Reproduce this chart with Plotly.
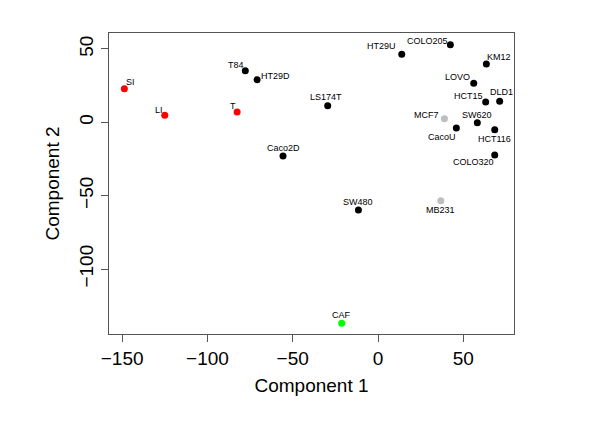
import plotly.graph_objects as go

# PCA scores
names = ["SI", "LI", "T", "T84", "HT29D", "LS174T", "Caco2D", "HT29U", "COLO205",
         "KM12", "LOVO", "HCT15", "DLD1", "MCF7", "SW620", "CacoU", "HCT116",
         "COLO320", "SW480", "MB231", "CAF"]
comp1 = [-148.7, -125.0, -82.6, -77.8, -70.9, -29.5, -55.7, 13.9, 42.4,
         63.5, 56.1, 63.1, 71.3, 38.9, 58.2, 45.9, 68.4,
         68.4, -11.5, 36.8, -21.3]
comp2 = [22.9, 4.8, 7.0, 35.2, 29.0, 11.3, -23.0, 46.4, 52.9,
         39.7, 26.6, 13.8, 14.3, 2.5, -0.3, -3.9, -5.0,
         -22.3, -59.8, -53.4, -137.0]
groups = ["tissue", "tissue", "tissue", "crc", "crc", "crc", "crc", "crc", "crc",
          "crc", "crc", "crc", "crc", "breast", "crc", "crc", "crc",
          "crc", "crc", "breast", "caf"]

x_ticks = [-150, -100, -50, 0, 50]
y_ticks = [-100, -50, 0, 50]

GROUP_COLORS = {"tissue": "#ff0000", "crc": "#000000", "breast": "#bebebe", "caf": "#00ff00"}

# label offset from its point in pixels (right, up)
label_shift = [(6, 7), (-6, 5), (-4, 6), (-9, 6), (18, 4), (-2, 9), (0, 8),
               (-20, 8), (-23, 4), (13, 7), (-16, 6), (-17, 6), (2, 9), (-18, 4),
               (0, 8), (-14, -9), (0, -9), (-21, -7), (0, 8), (0, -9), (0, 8)]

fig = go.Figure()

fig.add_trace(go.Scatter(
    x=comp1,
    y=comp2,
    mode="markers",
    text=names,
    marker=dict(size=7, color=[GROUP_COLORS[g] for g in groups]),
    showlegend=False,
    hovertemplate="%{text}<br>%{x:.1f}, %{y:.1f}<extra></extra>"
))

# point labels
for name, x, y, (dx, dy) in zip(names, comp1, comp2, label_shift):
    fig.add_annotation(
        x=x, y=y, text=name, showarrow=False,
        xshift=dx, yshift=dy,
        font=dict(family="Liberation Sans", size=9, color="#000000")
    )

axis_font = dict(family="Liberation Sans", size=19, color="#000000")

# page body adds an 8px offset, so margins are shifted to compensate
fig.update_layout(
    width=600,
    height=424,
    margin=dict(l=101, r=94, t=25, b=98),
    paper_bgcolor="white",
    plot_bgcolor="white",
    font=axis_font,
    xaxis=dict(
        range=[-157.7, 79.7],
        tickvals=x_ticks,
        ticks="outside",
        ticklen=7,
        tickcolor="#555555",
        showline=True,
        linecolor="#555555",
        mirror=True,
        showgrid=False,
        zeroline=False,
        tickfont=axis_font,
        title=dict(text="Component 1", font=axis_font, standoff=10),
    ),
    yaxis=dict(
        range=[-144.3, 60.9],
        tickvals=y_ticks,
        ticks="outside",
        ticklen=7,
        tickcolor="#555555",
        tickangle=-90,
        showline=True,
        linecolor="#555555",
        mirror=True,
        showgrid=False,
        zeroline=False,
        tickfont=axis_font,
        title=dict(text="Component 2", font=axis_font, standoff=11),
    ),
)

fig.write_html("out.html")
